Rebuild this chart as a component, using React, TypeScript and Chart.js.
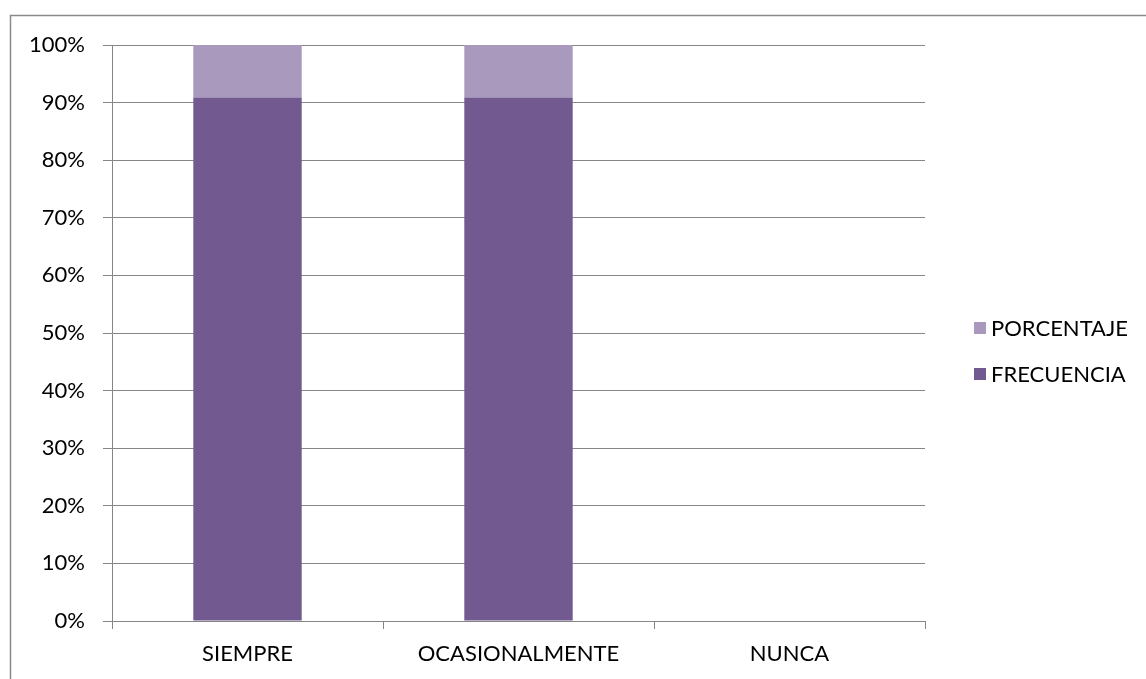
import React, { useEffect, useRef } from "react";
import { Chart, registerables } from "chart.js";

Chart.register(...registerables);

const categories = ["SIEMPRE", "OCASIONALMENTE", "NUNCA"];
const frecuencia = [90.9, 90.9, 0];
const porcentaje = [9.1, 9.1, 0];
const yTicks = [0, 10, 20, 30, 40, 50, 60, 70, 80, 90, 100];

const FONT = "Lato, 'Liberation Sans', sans-serif";
const GRID = "#868686";
const DARK = "#72598F";
const LIGHT = "#A99ABD";

const framePlugin = {
  id: "frameAndLegend",
  afterDraw(chart: any) {
    const ctx = chart.ctx;
    ctx.save();
    ctx.strokeStyle = "#8a8a8a";
    ctx.lineWidth = 1.5;
    ctx.strokeRect(10.5, 15.5, 2000, 2000);
    // legend (reversed order: top dataset first)
    const items = [...chart.data.datasets].reverse();
    const rowsY = [328, 374];
    ctx.font = "22px " + FONT;
    ctx.textBaseline = "middle";
    ctx.fillStyle = "#000";
    items.forEach((ds: any, i: number) => {
      const y = rowsY[i];
      ctx.fillStyle = ds.backgroundColor;
      ctx.fillRect(974, y - 6, 12, 12);
      ctx.fillStyle = "#000";
      ctx.textAlign = "left";
      ctx.fillText(ds.label, 991, y + 1);
    });
    ctx.restore();
  },
};

export default function App() {
  const ref = useRef<HTMLCanvasElement>(null);
  useEffect(() => {
    if (!ref.current) return;
    const chart = new Chart(ref.current, {
      type: "bar",
      data: {
        labels: categories,
        datasets: [
          {
            label: "FRECUENCIA",
            data: frecuencia,
            backgroundColor: DARK,
            categoryPercentage: 1,
            barPercentage: 0.4,
          },
          {
            label: "PORCENTAJE",
            data: porcentaje,
            backgroundColor: LIGHT,
            categoryPercentage: 1,
            barPercentage: 0.4,
          },
        ],
      },
      options: {
        animation: false,
        responsive: false,
        maintainAspectRatio: false,
        layout: { padding: { left: 0, top: 45, right: 221, bottom: 0 } },
        plugins: {
          legend: { display: false },
          tooltip: { enabled: false },
        },
        scales: {
          x: {
            stacked: true,
            afterFit: (s: any) => {
              s.height = 58;
            },
            grid: {
              offset: true,
              drawOnChartArea: false,
              drawTicks: true,
              tickLength: 8,
              color: GRID,
              lineWidth: 1,
            },
            border: { display: true, color: GRID, width: 1 },
            ticks: {
              color: "#000",
              font: { family: FONT, size: 22 },
              padding: 12,
              maxRotation: 0,
            },
          },
          y: {
            stacked: true,
            min: 0,
            max: 100,
            afterFit: (s: any) => {
              s.width = 112;
            },
            afterBuildTicks: (s: any) => {
              s.ticks = yTicks.map((v) => ({ value: v }));
            },
            grid: {
              color: GRID,
              lineWidth: 1,
              tickLength: 9,
              drawTicks: true,
            },
            border: { display: true, color: GRID, width: 1 },
            ticks: {
              color: "#000",
              font: { family: FONT, size: 22 },
              padding: 18,
              callback: (v: any) => v + "%",
            },
          },
        },
      },
      plugins: [framePlugin],
    });
    return () => chart.destroy();
  }, []);
  return (
    <div style={{ position: "absolute", left: 0, top: 0, width: 1146, height: 679, background: "#fff" }}>
      <canvas ref={ref} width={1146} height={679} style={{ display: "block" }} />
    </div>
  );
}
